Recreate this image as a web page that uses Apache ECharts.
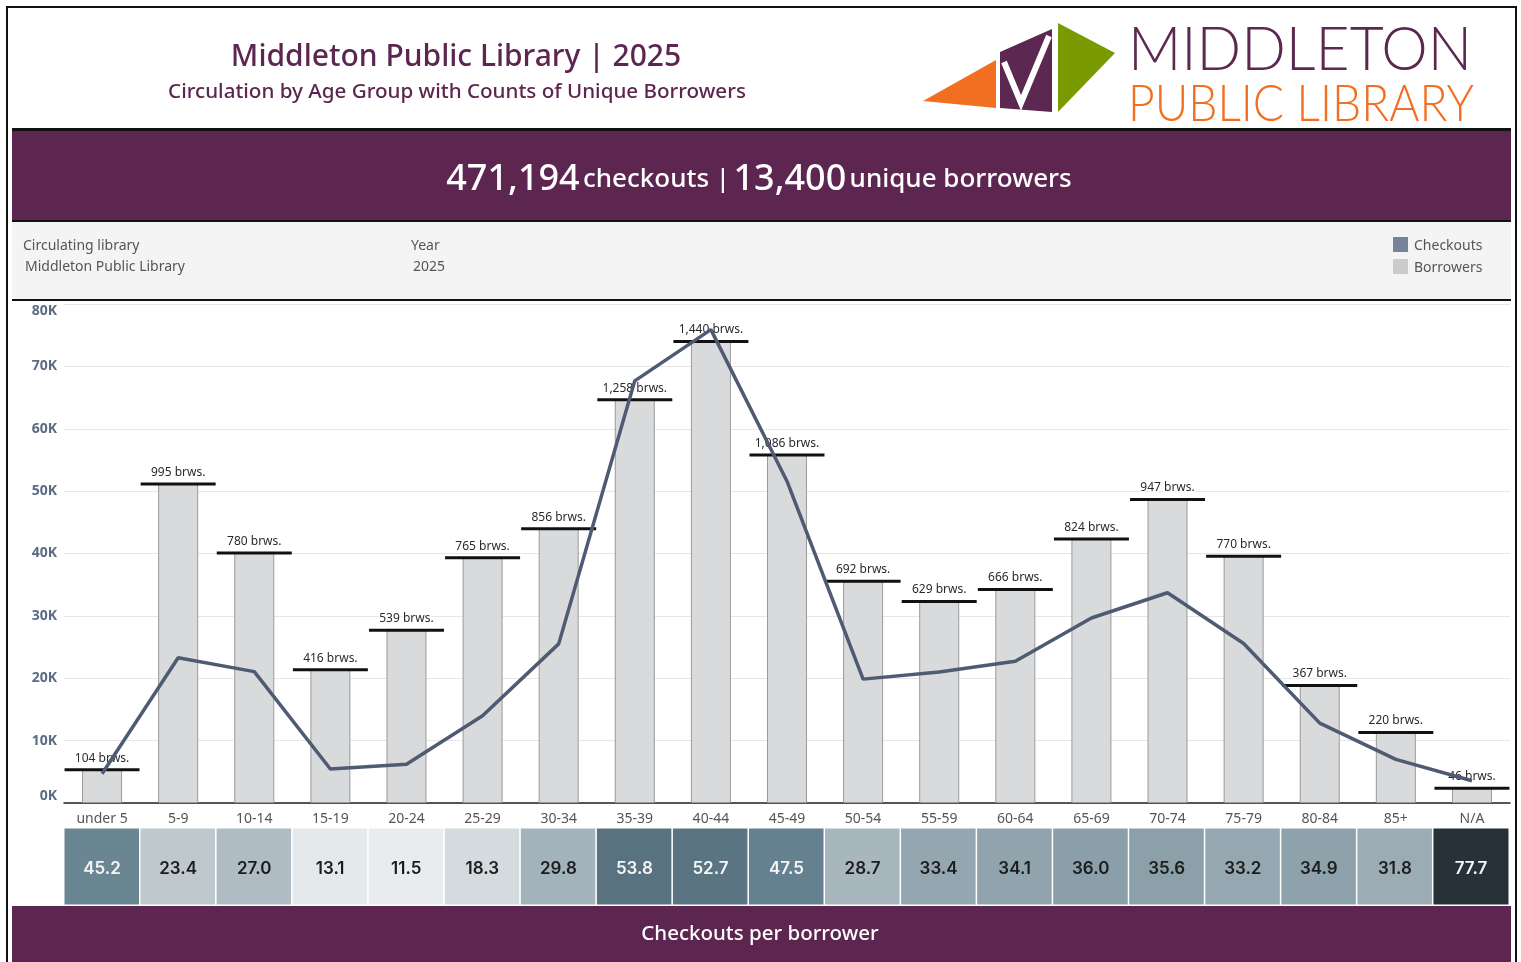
<!DOCTYPE html>
<html>
<head>
<meta charset="utf-8">
<script src="https://cdn.jsdelivr.net/npm/echarts@6.0.0/dist/echarts.min.js"></script>
<style>
  html, body { margin: 0; padding: 0; background: #ffffff; }
  #chart { width: 1521px; height: 962px; }
</style>
</head>
<body>
<div id="chart"></div>
<script>
// ---- data ----
const categories = ['under 5','5-9','10-14','15-19','20-24','25-29','30-34','35-39','40-44','45-49','50-54','55-59','60-64','65-69','70-74','75-79','80-84','85+','N/A'];
const borrowers = [104, 995, 780, 416, 539, 765, 856, 1258, 1440, 1086, 692, 629, 666, 824, 947, 770, 367, 220, 46];
const checkouts = [4701, 23283, 21060, 5450, 6199, 14000, 25509, 67680, 75888, 51585, 19860, 21009, 22711, 29664, 33713, 25564, 12808, 6996, 3574];
const perBorrower = [45.2, 23.4, 27.0, 13.1, 11.5, 18.3, 29.8, 53.8, 52.7, 47.5, 28.7, 33.4, 34.1, 36.0, 35.6, 33.2, 34.9, 31.8, 77.7];
const yTicks = [0, 10000, 20000, 30000, 40000, 50000, 60000, 70000, 80000];
const totalCheckouts = '471,194';
const totalBorrowers = '13,400';

const FONT = '"Noto Sans", "Open Sans", sans-serif';
const PURPLE = '#5d2651';

// fit logo words to their widths
const mctx = document.createElement('canvas').getContext('2d');
function fitScale(text, font, targetWidth) {
  mctx.font = font;
  const w = mctx.measureText(text).width;
  return w > 0 ? targetWidth / w : 1;
}
const LOGO_FONT_1 = '300 61px Lato, "DejaVu Sans", sans-serif';
const LOGO_FONT_2 = '300 51px Lato, "DejaVu Sans", sans-serif';
const sx1 = fitScale('MIDDLETON', LOGO_FONT_1, 344);
const sx2 = fitScale('PUBLIC LIBRARY', LOGO_FONT_2, 346);

const chart = echarts.init(document.getElementById('chart'), null, { renderer: 'canvas' });

const graphics = [
  // outer frame
  { type: 'rect', shape: { x: 7, y: 7, width: 1509, height: 962 }, style: { fill: null, stroke: '#111', lineWidth: 2 }, z: 100 },
  // header separator
  { type: 'rect', shape: { x: 12, y: 128, width: 1499, height: 3 }, style: { fill: '#111' } },
  // purple banner
  { type: 'rect', shape: { x: 12, y: 131, width: 1499, height: 89 }, style: { fill: PURPLE } },
  { type: 'rect', shape: { x: 12, y: 220, width: 1499, height: 2 }, style: { fill: '#111' } },
  // filter area
  { type: 'rect', shape: { x: 12, y: 222, width: 1499, height: 77 }, style: { fill: '#f4f4f4' } },
  { type: 'rect', shape: { x: 12, y: 299, width: 1499, height: 2 }, style: { fill: '#111' } },
  // footer band
  { type: 'rect', shape: { x: 12, y: 906, width: 1499, height: 60 }, style: { fill: PURPLE } },
  { type: 'text', x: 760, y: 934, style: { text: 'Checkouts per borrower', fill: '#ffffff', font: '500 20.5px ' + FONT, align: 'center', verticalAlign: 'middle' } },
  // titles
  { type: 'text', x: 456, y: 57, style: { text: 'Middleton Public Library | 2025', fill: PURPLE, font: '500 30px ' + FONT, align: 'center', verticalAlign: 'middle' } },
  { type: 'text', x: 457, y: 92, style: { text: 'Circulation by Age Group with Counts of Unique Borrowers', fill: PURPLE, font: '500 20.6px ' + FONT, align: 'center', verticalAlign: 'middle' } },
  // banner numbers
  { type: 'text', x: 759, y: 180, style: {
      text: '{big|' + totalCheckouts + '} {med|checkouts |} {big|' + totalBorrowers + '} {med|unique borrowers}',
      align: 'center', verticalAlign: 'middle',
      rich: {
        big: { fill: '#ffffff', font: '500 36px ' + FONT },
        med: { fill: '#ffffff', font: '500 26px ' + FONT }
      }
  } },
  // filter texts
  { type: 'text', x: 23, y: 246, style: { text: 'Circulating library', fill: '#555', font: '14px ' + FONT, verticalAlign: 'middle' } },
  { type: 'text', x: 25, y: 267, style: { text: 'Middleton Public Library', fill: '#555', font: '14px ' + FONT, verticalAlign: 'middle' } },
  { type: 'text', x: 411, y: 246, style: { text: 'Year', fill: '#555', font: '14px ' + FONT, verticalAlign: 'middle' } },
  { type: 'text', x: 413, y: 267, style: { text: '2025', fill: '#555', font: '14px ' + FONT, verticalAlign: 'middle' } },
  // legend
  { type: 'rect', shape: { x: 1393, y: 237, width: 15, height: 15 }, style: { fill: '#75849a' } },
  { type: 'text', x: 1414, y: 246, style: { text: 'Checkouts', fill: '#555', font: '14px ' + FONT, verticalAlign: 'middle' } },
  { type: 'rect', shape: { x: 1393, y: 259, width: 15, height: 15 }, style: { fill: '#cbcbcb' } },
  { type: 'text', x: 1414, y: 268, style: { text: 'Borrowers', fill: '#555', font: '14px ' + FONT, verticalAlign: 'middle' } },
  // logo shapes
  { type: 'polygon', shape: { points: [[923, 101], [996, 60], [996, 108]] }, style: { fill: '#f26f21' } },
  { type: 'polygon', shape: { points: [[1000, 52], [1052, 29], [1052, 112], [1000, 108]] }, style: { fill: '#5c2751' } },
  { type: 'polyline', shape: { points: [[1004, 62], [1021, 103], [1049, 36]] }, style: { stroke: '#ffffff', lineWidth: 6, fill: null, lineJoin: 'miter' } },
  { type: 'polygon', shape: { points: [[1058, 23], [1115, 53], [1058, 112]] }, style: { fill: '#7a9a01' } },
  { type: 'text', x: 1128, y: 50, scaleX: sx1, style: { text: 'MIDDLETON', fill: '#5c2751', font: LOGO_FONT_1, verticalAlign: 'middle' } },
  { type: 'text', x: 1128, y: 105, scaleX: sx2, style: { text: 'PUBLIC LIBRARY', fill: '#f26f21', font: LOGO_FONT_2, verticalAlign: 'middle' } }
];

const option = {
  animation: false,
  backgroundColor: '#ffffff',
  textStyle: { fontFamily: FONT },
  graphic: graphics,
  grid: [
    { left: 64, right: 11, top: 304, bottom: 159 },
    { left: 64, right: 12, top: 828, height: 77 }
  ],
  xAxis: [
    {
      type: 'category', gridIndex: 0, data: categories, boundaryGap: true,
      axisLine: { lineStyle: { color: '#222', width: 1.5 } },
      axisTick: { show: false },
      axisLabel: { color: '#555', fontSize: 14, margin: 9 }
    },
    {
      type: 'category', gridIndex: 1, data: categories, show: false
    }
  ],
  yAxis: [
    {
      type: 'value', gridIndex: 0, min: 0, max: 80000, interval: 10000,
      axisLine: { show: false }, axisTick: { show: false },
      splitLine: { lineStyle: { color: '#e6e6e6', width: 1 } },
      axisLabel: {
        color: '#5b6b84', fontSize: 14, fontWeight: 'bold', margin: 7,
        verticalAlignMinLabel: 'bottom', verticalAlignMaxLabel: 'top',
        formatter: v => (v / 1000) + 'K'
      }
    },
    {
      type: 'value', gridIndex: 0, min: 0, max: 1557, show: false,
      splitLine: { show: false }
    },
    {
      type: 'category', gridIndex: 1, data: [''], show: false
    }
  ],
  visualMap: {
    type: 'continuous', show: false, seriesIndex: 3, dimension: 2,
    min: 11.5, max: 77.7,
    inRange: { color: ['#e9ecee', '#d9e0e3', '#c1cbd0', '#abb9c0', '#93a6af', '#7f96a1', '#6c8795', '#5f7a87', '#546e7b', '#475f6b', '#3b4e58', '#303f47', '#263238'] }
  },
  series: [
    {
      name: 'Borrowers', type: 'bar', xAxisIndex: 0, yAxisIndex: 1,
      data: borrowers, barWidth: 40, z: 2,
      itemStyle: { color: '#d9dadc', borderColor: '#9a9a9a', borderWidth: 1 }
    },
    {
      name: 'Checkouts', type: 'line', xAxisIndex: 0, yAxisIndex: 0,
      data: checkouts, showSymbol: false, symbol: 'none', z: 4,
      lineStyle: { color: '#4e5b73', width: 3.5 }
    },
    {
      name: 'Borrower marks', type: 'scatter', xAxisIndex: 0, yAxisIndex: 1,
      data: borrowers, symbol: 'rect', symbolSize: [75, 3], z: 3,
      itemStyle: { color: '#111', opacity: 1 },
      label: {
        show: true, position: 'top', distance: 4,
        formatter: p => p.value.toLocaleString('en-US') + ' brws.',
        color: '#2a2a2a', fontSize: 12, fontFamily: FONT,
        textBorderColor: 'rgba(255,255,255,0.85)', textBorderWidth: 3
      },
      labelLayout: { hideOverlap: false }
    },
    {
      name: 'Checkouts per borrower', type: 'heatmap', xAxisIndex: 1, yAxisIndex: 2,
      data: perBorrower.map((v, i) => [i, 0, v]),
      itemStyle: { borderColor: '#ffffff', borderWidth: 1.5 },
      label: {
        show: true,
        formatter: p => (p.value[2] >= 45 ? '{w|' : '{d|') + p.value[2].toFixed(1) + '}',
        rich: {
          w: { color: '#f4f6f8', fontSize: 17, fontWeight: 600, fontFamily: 'Inter, "Noto Sans", sans-serif', padding: [4, 0, 0, 0] },
          d: { color: '#1c1c1c', fontSize: 17, fontWeight: 600, fontFamily: 'Inter, "Noto Sans", sans-serif', padding: [4, 0, 0, 0] }
        }
      }
    }
  ]
};

chart.setOption(option);
</script>
</body>
</html>
